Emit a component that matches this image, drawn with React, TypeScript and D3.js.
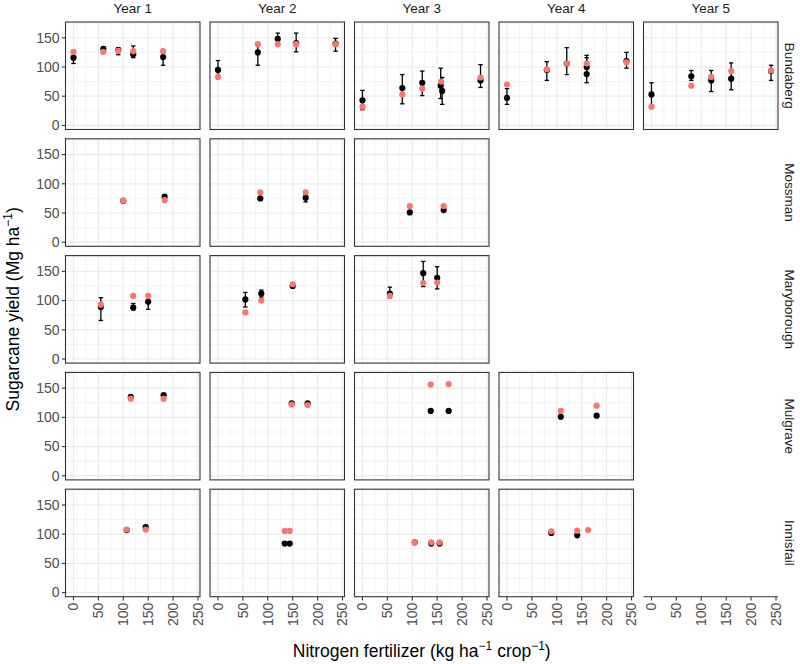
import React from 'react';
import * as d3 from 'd3';

const years = ['Year 1', 'Year 2', 'Year 3', 'Year 4', 'Year 5'];
const sites = ['Bundaberg', 'Mossman', 'Maryborough', 'Mulgrave', 'Innisfail'];
const siteYearCount = [5, 3, 3, 4, 4];
const xTicks = [0, 50, 100, 150, 200, 250];
const xMinor = [25, 75, 125, 175, 225];
const yTicks = [0, 50, 100, 150];
const yMinor = [25, 75, 125, 175];

// observed: [year, N rate, mean, lower, upper]
const bundabergObs = [
  [1, 0, 116, 106, 126], [1, 60, 131, 128, 134], [1, 90, 129, 121, 133], [1, 120, 122, 116, 136], [1, 180, 117, 103, 129],
  [2, 0, 95, 82, 111], [2, 80, 125, 103, 140], [2, 120, 148, 140, 158], [2, 157, 141, 126, 158], [2, 236, 140, 127, 149],
  [3, 0, 43, 27, 60], [3, 80, 64, 37, 87], [3, 120, 73, 51, 93], [3, 157, 68, 46, 98], [3, 160, 59, 36, 82], [3, 237, 77, 65, 104],
  [4, 0, 47, 36, 63], [4, 80, 95, 77, 109], [4, 120, 106, 87, 133], [4, 160, 100, 86, 120], [4, 160, 88, 73, 116], [4, 240, 110, 98, 125],
  [5, 0, 53, 33, 73], [5, 80, 84, 77, 94], [5, 120, 77, 58, 94], [5, 160, 80, 61, 107], [5, 240, 93, 77, 103],
];
const mossmanObs = [
  [1, 100, 71, 71, 71], [1, 183, 78, 78, 78],
  [2, 85, 75, 75, 75], [2, 176, 76, 69, 81],
  [3, 95, 51, 51, 51], [3, 163, 55, 55, 55],
];
const maryboroughObs = [
  [1, 55, 89, 66, 105], [1, 120, 88, 84, 95], [1, 150, 98, 85, 110],
  [2, 55, 102, 89, 114], [2, 87, 112, 106, 118], [2, 150, 125, 122, 128],
  [3, 55, 112, 105, 123], [3, 122, 147, 124, 167], [3, 150, 139, 120, 158],
];
const mulgraveObs = [
  [1, 115, 135, 135, 135], [1, 181, 138, 138, 138],
  [2, 148, 124, 124, 124], [2, 180, 124, 124, 124],
  [3, 137, 111, 111, 111], [3, 173, 111, 111, 111],
  [4, 108, 101, 101, 101], [4, 180, 103, 103, 103],
];
const innisfailObs = [
  [1, 107, 107, 107, 107], [1, 145, 112, 112, 112],
  [2, 134, 84, 84, 84], [2, 144, 84, 84, 84],
  [3, 105, 86, 86, 86], [3, 138, 84, 84, 84], [3, 155, 84, 84, 84],
  [4, 89, 102, 102, 102], [4, 141, 98, 98, 98],
];

// predicted: [year, N rate, value]
const bundabergPred = [
  [1, 0, 126], [1, 60, 126], [1, 90, 127.5], [1, 120, 127], [1, 180, 127],
  [2, 0, 83], [2, 80, 139], [2, 120, 139], [2, 157, 139], [2, 236, 139],
  [3, 0, 32], [3, 80, 53], [3, 120, 63], [3, 158, 75], [3, 237, 82],
  [4, 0, 70], [4, 80, 96], [4, 120, 106], [4, 160, 106], [4, 240, 108],
  [5, 0, 32], [5, 80, 68], [5, 120, 83], [5, 160, 93], [5, 240, 94],
];
const mossmanPred = [
  [1, 100, 71.5], [1, 183, 72],
  [2, 85, 85.5], [2, 176, 85.5],
  [3, 95, 62], [3, 163, 62],
];
const maryboroughPred = [
  [1, 55, 93], [1, 120, 108], [1, 150, 108],
  [2, 55, 80], [2, 87, 100], [2, 150, 128],
  [3, 55, 108], [3, 122, 130], [3, 150, 131],
];
const mulgravePred = [
  [1, 115, 132], [1, 181, 132],
  [2, 148, 122], [2, 180, 121],
  [3, 137, 156], [3, 173, 157],
  [4, 108, 111], [4, 180, 120],
];
const innisfailPred = [
  [1, 107, 108], [1, 145, 108],
  [2, 134, 105.5], [2, 144, 105.5],
  [3, 105, 86], [3, 138, 86], [3, 155, 86],
  [4, 89, 105], [4, 141, 106], [4, 163, 107],
];

const obsBySite = [bundabergObs, mossmanObs, maryboroughObs, mulgraveObs, innisfailObs];
const predBySite = [bundabergPred, mossmanPred, maryboroughPred, mulgravePred, innisfailPred];

const W = 800;
const H = 664;
const PW = 134.5;
const PH = 107.5;
const colX = (i: number) => 65.5 + i * 144.5;
const rowY = (j: number) => 22 + j * 116.8;
const FONT = '"Liberation Sans", Arial, Helvetica, sans-serif';
const PRED = '#F8766D';

export default function App() {
  const x = d3.scaleLinear().domain([-16, 254]).range([0, PW]);
  const y = d3.scaleLinear().domain([-7, 177]).range([PH, 0]);
  const bottom = rowY(4) + PH;

  const panels: React.ReactNode[] = [];
  sites.forEach((site, r) => {
    for (let c = 0; c < siteYearCount[r]; c++) {
      const yr = c + 1;
      const obs = obsBySite[r].filter((d) => d[0] === yr);
      const pred = predBySite[r].filter((d) => d[0] === yr);
      panels.push(
        <g key={`${site}-${yr}`} transform={`translate(${colX(c)},${rowY(r)})`}>
          <rect x={0} y={0} width={PW} height={PH} fill="#fff" />
          {xMinor.map((t) => (
            <line key={`xm${t}`} x1={x(t)} x2={x(t)} y1={0} y2={PH} stroke="#EBEBEB" strokeWidth={0.6} />
          ))}
          {yMinor.map((t) => (
            <line key={`ym${t}`} x1={0} x2={PW} y1={y(t)} y2={y(t)} stroke="#EBEBEB" strokeWidth={0.6} />
          ))}
          {xTicks.map((t) => (
            <line key={`xg${t}`} x1={x(t)} x2={x(t)} y1={0} y2={PH} stroke="#EBEBEB" strokeWidth={1.2} />
          ))}
          {yTicks.map((t) => (
            <line key={`yg${t}`} x1={0} x2={PW} y1={y(t)} y2={y(t)} stroke="#EBEBEB" strokeWidth={1.2} />
          ))}
          {obs.map((d, i) =>
            d[3] !== d[4] ? (
              <g key={`eb${i}`} stroke="#000" strokeWidth={1.3}>
                <line x1={x(d[1])} x2={x(d[1])} y1={y(d[3])} y2={y(d[4])} />
                <line x1={x(d[1]) - 2.2} x2={x(d[1]) + 2.2} y1={y(d[3])} y2={y(d[3])} />
                <line x1={x(d[1]) - 2.2} x2={x(d[1]) + 2.2} y1={y(d[4])} y2={y(d[4])} />
              </g>
            ) : null
          )}
          {obs.map((d, i) => (
            <circle key={`o${i}`} cx={x(d[1])} cy={y(d[2])} r={3.1} fill="#000" />
          ))}
          {pred.map((d, i) => (
            <circle key={`p${i}`} cx={x(d[1])} cy={y(d[2])} r={3.1} fill={PRED} />
          ))}
          <rect x={0} y={0} width={PW} height={PH} fill="none" stroke="#333333" strokeWidth={1.1} />
        </g>
      );
    }
  });

  return (
    <svg width={W} height={H} style={{ position: 'absolute', left: 0, top: 0 }} fontFamily={FONT}>
      <rect width={W} height={H} fill="#fff" />
      {panels}
      {/* Top strip labels */}
      {years.map((yl, c) => (
        <text key={yl} x={colX(c) + PW / 2} y={13} textAnchor="middle" fontSize={13.5} fill="#1A1A1A">
          {yl}
        </text>
      ))}
      {/* Right strip labels */}
      {sites.map((s, r) => (
        <text
          key={s}
          transform={`translate(785,${rowY(r) + PH / 2}) rotate(90)`}
          textAnchor="middle"
          fontSize={13.5}
          fill="#1A1A1A"
        >
          {s}
        </text>
      ))}
      {/* Y axes on first column */}
      {sites.map((s, r) => (
        <g key={`ya${s}`} transform={`translate(${colX(0)},${rowY(r)})`}>
          {yTicks.map((t) => (
            <g key={t}>
              <line x1={-3.7} x2={0} y1={y(t)} y2={y(t)} stroke="#333333" strokeWidth={1.1} />
              <text x={-6} y={y(t)} dy="0.35em" textAnchor="end" fontSize={14} fill="#4D4D4D">
                {t}
              </text>
            </g>
          ))}
        </g>
      ))}
      {/* X axes on bottom row */}
      {years.map((yl, c) => (
        <g key={`xa${yl}`} transform={`translate(${colX(c)},${bottom})`}>
          {c === 4 && <line x1={0} x2={PW} y1={0} y2={0} stroke="#333333" strokeWidth={1.1} />}
          {xTicks.map((t) => (
            <g key={t}>
              <line x1={x(t)} x2={x(t)} y1={0} y2={3.7} stroke="#333333" strokeWidth={1.1} />
              <text
                transform={`translate(${x(t)},${6}) rotate(-90)`}
                dy="0.35em"
                textAnchor="end"
                fontSize={14}
                fill="#4D4D4D"
              >
                {t}
              </text>
            </g>
          ))}
        </g>
      ))}
      {/* Axis titles */}
      <text x={(colX(0) + colX(4) + PW) / 2} y={657} textAnchor="middle" fontSize={17.5} fill="#000">
        Nitrogen fertilizer (kg ha
        <tspan dy={-7} fontSize={12}>−1</tspan>
        <tspan dy={7}> crop</tspan>
        <tspan dy={-7} fontSize={12}>−1</tspan>
        <tspan dy={7}>)</tspan>
      </text>
      <text
        transform={`translate(19,${(rowY(0) + bottom) / 2}) rotate(-90)`}
        textAnchor="middle"
        fontSize={17.5}
        fill="#000"
      >
        Sugarcane yield (Mg ha
        <tspan dy={-7} fontSize={12}>−1</tspan>
        <tspan dy={7}>)</tspan>
      </text>
    </svg>
  );
}
